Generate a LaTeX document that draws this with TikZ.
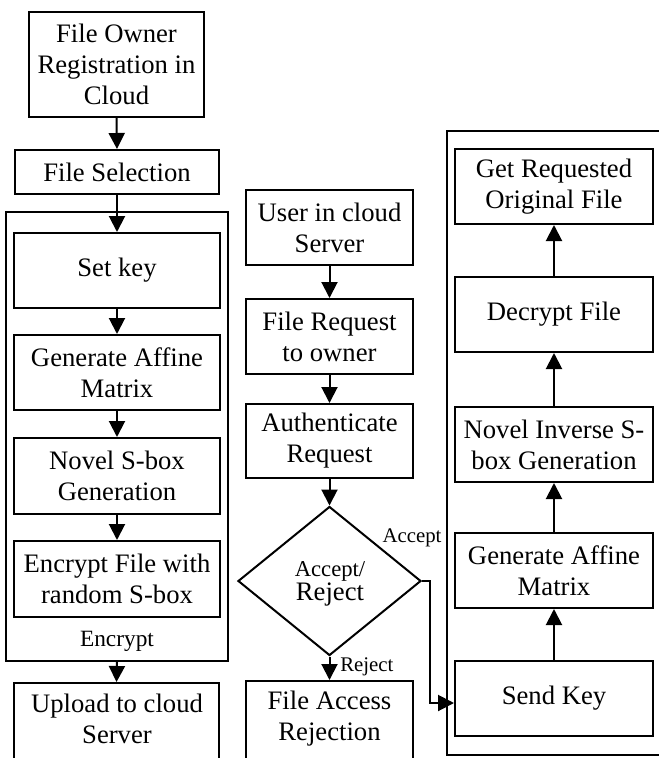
\documentclass[tikz,border=0pt]{standalone}
\usepackage{fontspec}
\setmainfont{Liberation Serif}
\usetikzlibrary{shapes.geometric,arrows.meta,fit}
\newcommand\mainfs{\fontsize{20pt}{23.25pt}\selectfont}
\newcommand\tagfs{\fontsize{15.6pt}{18pt}\selectfont}
\newcommand\encfs{\fontsize{17.5pt}{20pt}\selectfont}
\begin{document}
\begin{tikzpicture}[x=0.75pt,y=-0.75pt,
  box/.style={draw, line width=1.5pt, inner sep=0pt},
  txt/.style={inner sep=0pt, align=center, font=\mainfs},
  frame/.style={draw, line width=1.5pt, inner sep=0pt},
  arr/.style={line width=1.5pt, -{Triangle[length=12pt,width=12pt]}},
  tag/.style={inner sep=0pt, anchor=base, font=\tagfs}]
\useasboundingbox (0,0) rectangle (658,758);

% ---- owner side: registration and encryption ----
\node[box, fit={(29,12)(204,117)}] (owner) {};
\node[txt] (ownert) at (owner.center) {File Owner\\Registration in\\Cloud};
\node[box, fit={(15,150)(219,194)}] (sel) {};
\node[txt] (selt) at (sel.center) {File Selection};
\node[frame, fit={(6,212)(228,661)}] (encgrp) {};
\node[box, fit={(14,233)(220,308)}] (key) {};
\node[txt] (keyt) at (key.center) {Set key};
\node[box, fit={(14,335)(220,410)}] (aff) {};
\node[txt] (afft) at (aff.center) {Generate Affine\\Matrix};
\node[box, fit={(14,438)(220,514)}] (sbox) {};
\node[txt] (sboxt) at (sbox.center) {Novel S-box\\Generation};
\node[box, fit={(14,541)(220,617)}] (encf) {};
\node[txt] (encft) at (encf.center) {Encrypt File with\\random S-box};
\node[inner sep=0pt, anchor=base, font=\encfs] (enclbl) at (117,646) {Encrypt};
\node[box, fit={(14,683)(219,760)}] (up) {};
\node[txt] (upt) at (117,719) {Upload to cloud\\Server};

\draw[arr] (owner.south) -- (sel.north);
\draw[arr] (sel.south) -- (key.north);
\draw[arr] (key.south) -- (aff.north);
\draw[arr] (aff.south) -- (sbox.north);
\draw[arr] (sbox.south) -- (encf.north);
\draw[arr] (encgrp.south) -- (up.north);

% ---- user side: request and authentication ----
\node[box, fit={(246,190)(413,265)}] (user) {};
\node[txt] (usert) at (user.center) {User in cloud\\Server};
\node[box, fit={(246,299)(413,374)}] (req) {};
\node[txt] (reqt) at (req.center) {File Request\\to owner};
\node[box, fit={(246,404)(413,478)}] (auth) {};
\node[txt] (autht) at (auth.center) {Authenticate\\Request};
\node[draw, line width=1.5pt, shape=diamond, inner sep=0pt, aspect=1.23,
      minimum width=137.25pt, minimum height=111.75pt] (dec) at (329.5,581) {};
\node[inner sep=0pt, align=center] (dect) at (330,584)
      {\fontsize{17pt}{22.5pt}\selectfont Accept/\\\fontsize{20pt}{22.5pt}\selectfont Reject};
\node[box, fit={(246,681)(413,760)}] (rej) {};
\node[txt] (rejt) at (329.5,719) {File Access\\Rejection};

\draw[arr] (user.south) -- (req.north);
\draw[arr] (req.south) -- (auth.north);
\draw[arr] (auth.south) -- (dec.north);
\draw[arr] (dec.south) -- (rej.north);
\node[tag] (acclbl) at (412,542) {Accept};
\node[tag, anchor=base west] (rejlbl) at (340,671) {Reject};

% ---- decryption side ----
\draw[line width=1.5pt] (675,131) -- (447,131) -- (447,755) -- (675,755);
\node[box, fit={(455,149)(653,224)}] (get) {};
\node[txt] (gett) at (get.center) {Get Requested\\Original File};
\node[box, fit={(455,277)(653,352)}] (decf) {};
\node[txt] (decft) at (decf.center) {Decrypt File};
\node[box, fit={(455,407)(653,482)}] (inv) {};
\node[txt] (invt) at (inv.center) {Novel Inverse S-\\box Generation};
\node[box, fit={(455,533)(653,608)}] (aff2) {};
\node[txt] (aff2t) at (aff2.center) {Generate Affine\\Matrix};
\node[box, fit={(455,661)(653,736)}] (send) {};
\node[txt] (sendt) at (send.center) {Send Key};

\draw[arr] (send.north) -- (aff2.south);
\draw[arr] (aff2.north) -- (inv.south);
\draw[arr] (inv.north) -- (decf.south);
\draw[arr] (decf.north) -- (get.south);

\coordinate (acc1) at (430,581);
\coordinate (acc2) at (430,703);
\draw[arr] (dec.east) -- (acc1) -- (acc2) -- (send.west |- acc2);
\end{tikzpicture}
\end{document}
